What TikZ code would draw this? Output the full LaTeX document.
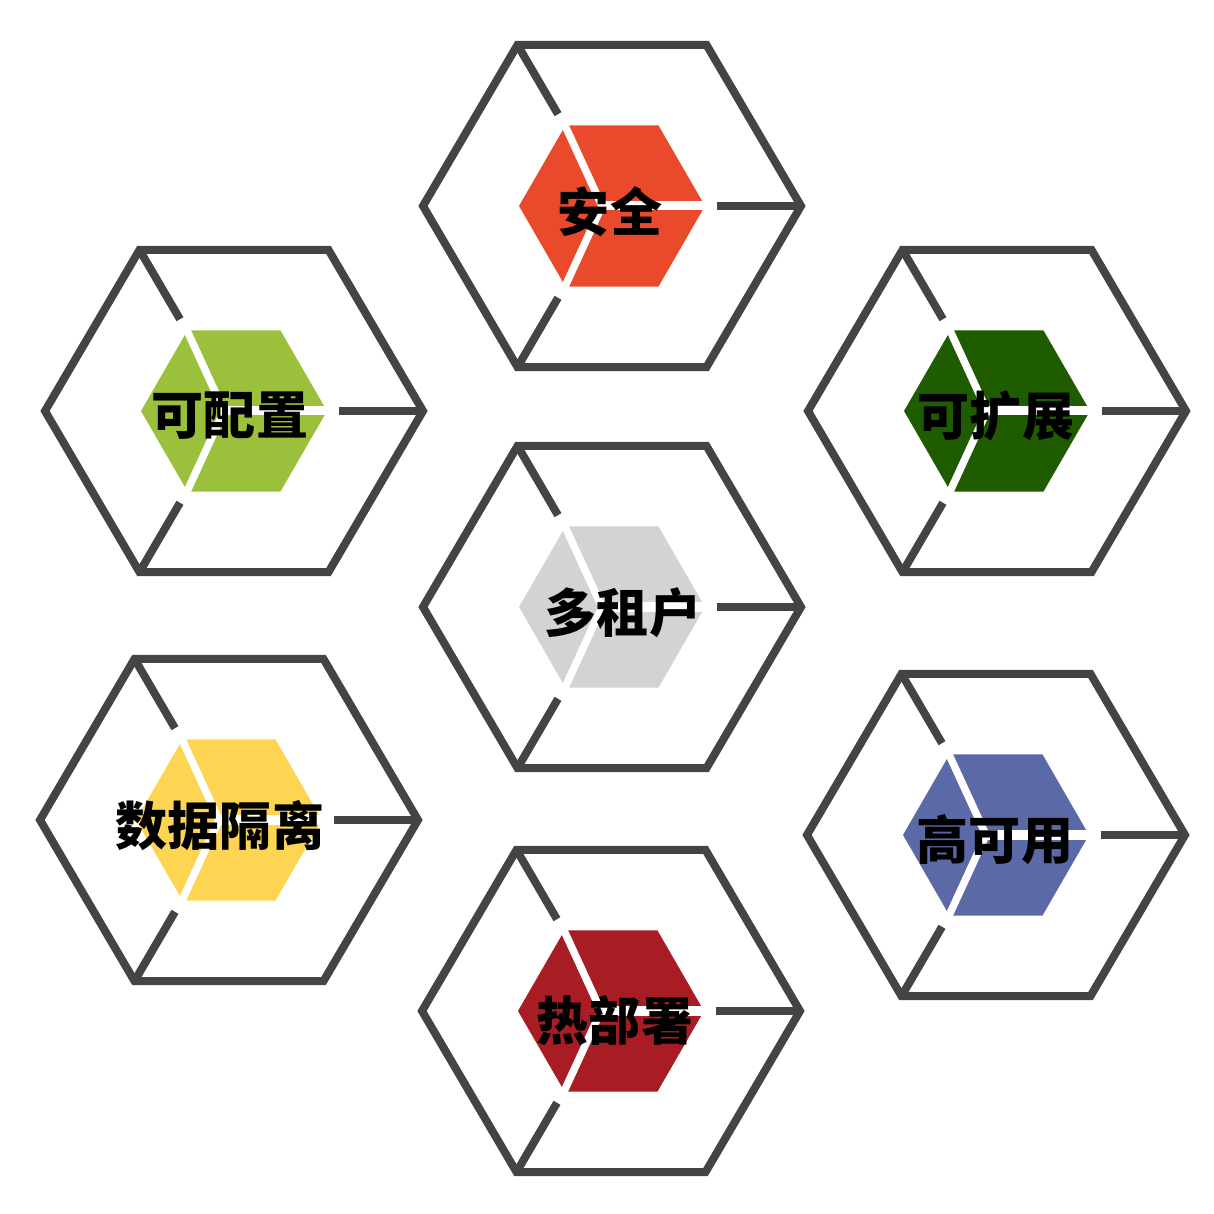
\documentclass[tikz,border=0pt]{standalone}
\usepackage{fontspec}
\newfontfamily\cjk{Noto Sans CJK SC}
\definecolor{rim}{HTML}{444444}
\definecolor{anquan}{HTML}{E84A2B}
\definecolor{peizhi}{HTML}{9BC03B}
\definecolor{kuozhan}{HTML}{1F5C00}
\definecolor{zuhu}{HTML}{D3D3D3}
\definecolor{geli}{HTML}{FED553}
\definecolor{gaoky}{HTML}{5B69A7}
\definecolor{bushu}{HTML}{A81C23}

\begin{document}
\begin{tikzpicture}[x=0.01cm,y=0.01cm]
\tikzset{rim style/.style={draw=rim, line width=0.08cm},
         cut style/.style={draw=white, line width=0.075cm},
         label style/.style={font=\cjk\bfseries\fontsize{14.8pt}{16pt}\selectfont, text=black, inner sep=0pt}}

\useasboundingbox (0,0) rectangle (1214,1214);

\foreach \n/\cx/\cy/\col/\txt/\lx/\ly in {
        1/612/1008/anquan/安全/610/1002,
        2/234/803/peizhi/可配置/230/798,
        3/997/803/kuozhan/可扩展/996/798,
        4/612/607/zuhu/多租户/623/601,
        5/229/394/geli/数据隔离/220/388,
        6/996/379/gaoky/高可用/995/374,
        7/611/203/bushu/热部署/615/193}{
    \coordinate (c\n) at (\cx,\cy);
    \begin{scope}[shift={(c\n)}]
        % outer cell and spokes
        \draw[rim style] (0:189 and 186) -- (60:189 and 186) -- (120:189 and 186)
            -- (180:189 and 186) -- (240:189 and 186) -- (300:189 and 186) -- cycle;
        \draw[rim style] (120:189 and 186) -- (120:108 and 106);
        \draw[rim style] (240:189 and 186) -- (240:108 and 106);
        \draw[rim style] (0:189) -- (0:105);
        % inner cube
        \fill[\col] (0:93) -- (60:93) -- (120:93) -- (180:93) -- (240:93) -- (300:93) -- cycle;
        \draw[cut style] (120:98) -- (-10,0) -- (240:98);
        \draw[cut style, line width=0.09cm] (-10,0) -- (0:98);
    \end{scope}
    \node[label style] (t\n) at (\lx,\ly) {\txt};
}
\end{tikzpicture}
\end{document}
